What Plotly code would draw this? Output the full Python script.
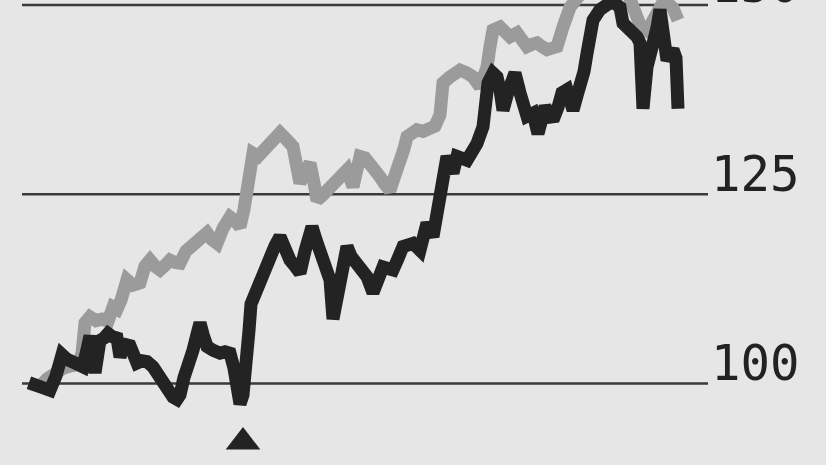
import plotly.graph_objects as go

# Black series (index)
black_days = [29, 37, 50, 56, 62, 67, 73, 78, 83, 87, 90, 95, 100, 104, 108, 112, 117, 120, 124, 130,
              134, 137, 142, 147, 153, 158, 163, 168, 173, 177, 180, 184, 187, 193, 197, 200, 203, 207,
              213, 220, 225, 230, 234, 237, 240, 243, 247, 249, 251, 254, 258, 262, 266, 270, 275, 280,
              285, 290, 295, 300, 305, 309, 312, 316, 320, 325, 330, 333, 336, 340, 344, 347, 351, 357,
              362, 367, 373, 378, 383, 388, 393, 398, 403, 408, 413, 420, 424, 427, 433, 437, 440, 444,
              447, 451, 453, 457, 462, 467, 472, 477, 483, 486, 488, 493, 497, 500, 503, 508, 511, 515,
              520, 524, 527, 533, 538, 542, 545, 549, 553, 558, 562, 567, 573, 577, 580, 584, 587, 590,
              593, 600, 605, 610, 615, 620, 623, 628, 633, 637, 640, 643, 647, 650, 653, 657, 660, 663,
              667, 670, 673, 676, 678]
black_vals = [100.1, 99.7, 99.1, 101.0, 103.8, 103.2, 102.7, 102.4, 102.2, 104.5, 106.3, 101.4, 105.7,
              106.0, 106.6, 106.2, 106.0, 103.5, 105.2, 105.0, 104.0, 102.7, 103.0, 102.9, 102.2, 101.0,
              100.0, 98.8, 98.2, 97.9, 98.5, 100.8, 101.8, 104.4, 106.5, 108.0, 106.5, 104.9, 104.4,
              104.0, 104.2, 104.0, 102.0, 100.0, 97.3, 98.5, 102.2, 107.0, 110.5, 111.6, 112.6, 113.5,
              115.4, 116.3, 118.2, 119.4, 117.5, 116.3, 115.5, 114.6, 117.5, 119.8, 120.7, 119.0, 117.2,
              115.5, 113.7, 108.5, 111.0, 114.1, 117.0, 118.1, 116.8, 115.9, 115.0, 114.1, 112.0, 114.0,
              115.4, 115.2, 115.0, 116.5, 118.1, 118.3, 118.5, 117.6, 119.5, 121.2, 119.4, 122.5, 125.0,
              128.6, 130.0, 128.5, 127.8, 130.0, 129.8, 129.5, 130.6, 131.7, 133.9, 137.0, 139.7, 141.0,
              140.5, 138.8, 136.1, 138.5, 140.5, 141.0, 138.4, 136.6, 135.3, 135.7, 133.0, 135.0, 136.6,
              135.5, 134.8, 136.5, 138.4, 138.8, 136.1, 138.0, 139.2, 141.2, 143.6, 146.0, 148.0, 149.4,
              150.0, 150.3, 150.2, 149.7, 147.6, 147.0, 146.7, 145.8, 145.0, 136.3, 141.8, 143.2, 144.1,
              147.0, 149.4, 146.3, 142.7, 143.5, 144.1, 143.0, 136.3]

# Grey series (benchmark)
grey_days = [29, 40, 47, 55, 63, 70, 78, 82, 85, 90, 96, 102, 108, 113, 117, 121, 127, 133, 140, 145,
             150, 155, 160, 165, 170, 175, 180, 186, 193, 200, 207, 212, 217, 223, 230, 235, 240, 244,
             247, 250, 253, 258, 263, 268, 273, 280, 286, 293, 297, 300, 305, 310, 314, 317, 322, 327,
             332, 337, 342, 347, 353, 357, 360, 365, 370, 375, 380, 385, 390, 395, 400, 404, 407, 412,
             417, 423, 430, 435, 440, 443, 450, 455, 460, 467, 473, 480, 487, 490, 493, 500, 505, 510,
             517, 522, 527, 532, 537, 542, 547, 552, 557, 563, 570, 577, 585, 600, 615, 628, 633, 638,
             642, 647, 651, 657, 663, 668, 673, 678]
grey_vals = [100.0, 99.6, 100.6, 101.5, 102.0, 102.3, 102.5, 104.0, 108.0, 108.8, 108.3, 108.5, 108.2,
             110.1, 109.8, 111.0, 113.7, 113.0, 113.3, 115.5, 116.3, 115.5, 115.0, 115.6, 116.3, 116.0,
             115.9, 117.5, 118.5, 119.3, 119.9, 119.0, 118.5, 120.5, 122.0, 121.5, 120.7, 123.0, 126.5,
             128.6, 130.4, 130.0, 130.8, 131.0, 132.2, 133.1, 132.3, 131.3, 128.5, 126.5, 128.0, 129.1,
             126.5, 124.2, 124.8, 125.5, 126.0, 126.5, 127.5, 128.2, 126.0, 128.0, 130.0, 129.8, 129.1,
             128.2, 127.3, 126.3, 125.5, 127.5, 129.1, 131.0, 132.6, 133.2, 133.5, 133.3, 133.5, 134.0,
             135.5, 139.7, 140.5, 141.0, 141.4, 141.0, 140.5, 139.2, 141.8, 144.5, 146.7, 147.1, 146.5,
             145.8, 146.3, 145.3, 144.5, 144.8, 145.0, 144.5, 144.1, 144.3, 144.5, 147.1, 149.7, 150.9,
             152.0, 153.0, 152.5, 151.5, 150.0, 148.0, 146.7, 146.5, 147.5, 148.9, 150.4, 150.2, 149.6,
             148.0]

grid_levels = [100, 125, 150]
grid_labels = ["100", "125", "150"]
marker_day = [243]
marker_val = [92.26]

fig = go.Figure()
for lv in grid_levels:
    fig.add_shape(type="line", xref="x", yref="y", x0=22, x1=708, y0=lv, y1=lv,
                  line=dict(color="#3a3a3a", width=2.5), layer="below")

fig.add_trace(go.Scatter(x=grey_days, y=grey_vals, mode="lines",
                         line=dict(color="#9b9b9b", width=13), hoverinfo="skip"))
fig.add_trace(go.Scatter(x=black_days, y=black_vals, mode="lines",
                         line=dict(color="#232323", width=13), hoverinfo="skip"))
fig.add_trace(go.Scatter(x=marker_day, y=marker_val, mode="markers",
                         marker=dict(symbol="triangle-up", size=30, color="#232323"),
                         hoverinfo="skip", cliponaxis=False))

for lv, lab in zip(grid_levels, grid_labels):
    fig.add_annotation(x=709, y=lv, xref="x", yref="y", text=lab, showarrow=False,
                       xanchor="left", yanchor="bottom", yshift=-11,
                       font=dict(family="DejaVu Sans Mono", size=49, color="#222222"))

fig.update_layout(width=826, height=465, margin=dict(l=0, r=0, t=0, b=0),
                  paper_bgcolor="#e6e6e6", plot_bgcolor="#e6e6e6", showlegend=False,
                  hovermode=False)
fig.update_xaxes(range=[0, 826], visible=False, showgrid=False, zeroline=False)
fig.update_yaxes(range=[89.23, 150.66], visible=False, showgrid=False, zeroline=False)
fig.write_html("out.html", config={"displayModeBar": False, "staticPlot": True},
               post_script="document.body.style.margin='0';document.body.style.background='#e6e6e6';")
